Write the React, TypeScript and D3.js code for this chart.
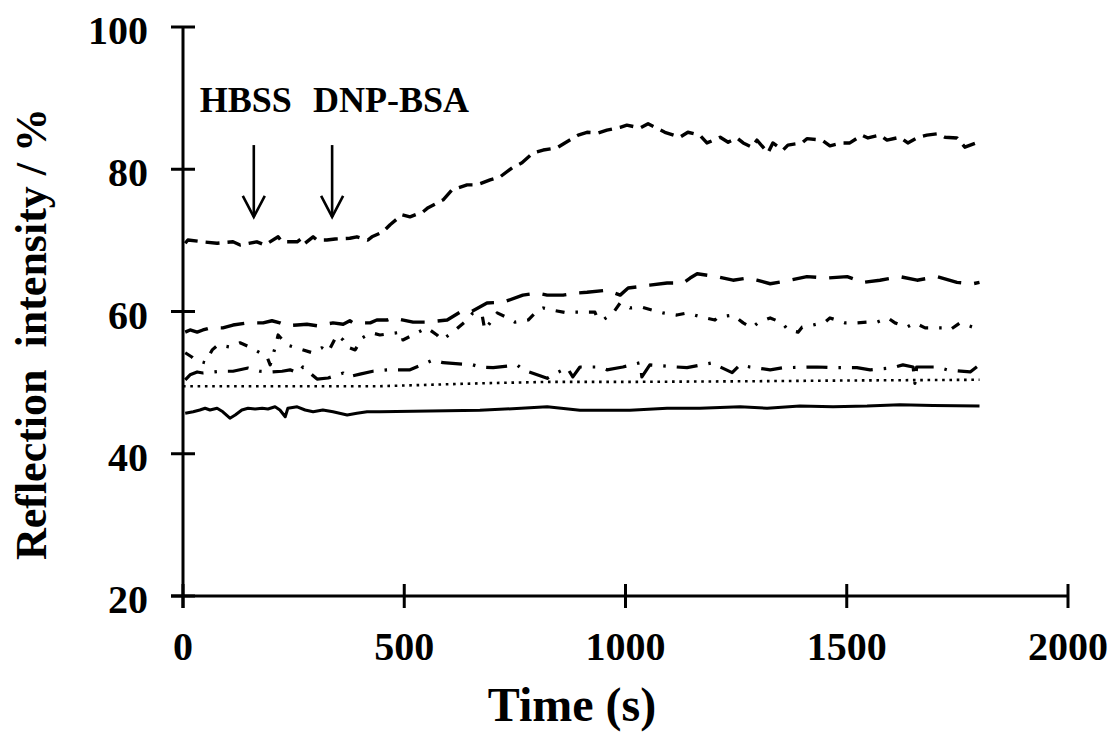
import React from "react";
import * as d3 from "d3";

// ---------- data ----------
const xTicks = [0, 500, 1000, 1500, 2000];
const yTicks = [20, 40, 60, 80, 100];

// top short-dashed trace
const s1T = [5, 11, 45, 77, 113, 129, 167, 185, 215, 224, 258, 269, 276, 294, 303, 325, 344, 377, 393, 418, 427, 452, 468, 495, 513, 542, 554, 588, 608, 642, 664, 694, 716, 744, 766, 791, 814, 845, 863, 893, 913, 938, 958, 988, 1003, 1033, 1051, 1089, 1123, 1141, 1168, 1184, 1214, 1232, 1252, 1266, 1286, 1297, 1322, 1333, 1356, 1367, 1399, 1410, 1444, 1462, 1489, 1507, 1534, 1548, 1575, 1591, 1620, 1638, 1661, 1681, 1706, 1722, 1749, 1767, 1797, 1800];
const s1V = [69.6, 70.05, 69.8, 69.6, 69.8, 69.35, 69.8, 69.35, 70.5, 69.8, 69.8, 70.3, 69.6, 70.5, 70.05, 70.05, 70.2, 70.3, 70.5, 70.05, 70.5, 71.2, 72.2, 73.6, 73.3, 74.0, 74.6, 75.7, 77.1, 77.8, 77.8, 78.5, 78.9, 80.2, 80.9, 82.3, 82.7, 83.0, 83.7, 84.8, 85.2, 85.1, 85.5, 85.9, 86.2, 85.8, 86.4, 85.2, 84.5, 85.2, 84.8, 83.7, 84.5, 83.8, 84.4, 83.7, 83.1, 84.1, 82.3, 83.7, 82.7, 83.4, 83.7, 84.3, 84.1, 83.3, 83.7, 83.7, 84.8, 84.4, 84.8, 84.1, 84.5, 83.7, 84.5, 84.8, 85.0, 84.5, 84.4, 83.1, 83.8, 83.4];

// long-dashed trace
const s2T = [5, 16, 32, 45, 61, 90, 113, 145, 181, 201, 219, 235, 258, 280, 303, 339, 362, 377, 384, 423, 438, 461, 475, 520, 551, 597, 626, 649, 687, 723, 768, 800, 823, 859, 890, 913, 958, 988, 1006, 1055, 1094, 1130, 1146, 1162, 1207, 1243, 1275, 1297, 1327, 1372, 1410, 1455, 1501, 1537, 1575, 1620, 1659, 1704, 1749, 1785, 1800];
const s2V = [57.1, 57.4, 57.1, 57.4, 57.7, 57.7, 58.1, 58.4, 58.4, 58.7, 58.4, 58.0, 58.1, 58.2, 58.0, 58.4, 58.2, 58.7, 58.4, 58.4, 58.8, 58.8, 59.1, 58.5, 58.5, 58.8, 59.9, 59.9, 61.2, 61.3, 62.3, 62.6, 62.3, 62.3, 62.6, 62.7, 63.0, 62.3, 63.3, 63.7, 64.0, 64.0, 64.7, 65.3, 64.9, 64.4, 64.7, 64.4, 63.9, 64.4, 64.9, 64.7, 64.9, 64.1, 64.4, 64.9, 64.4, 64.9, 64.1, 63.9, 64.1];

// upper dash-dot trace
const s3T = [5, 20, 27, 50, 66, 79, 106, 129, 151, 174, 190, 197, 208, 215, 235, 292, 314, 328, 348, 362, 371, 389, 405, 416, 427, 445, 495, 497, 551, 574, 585, 610, 642, 655, 676, 682, 710, 734, 750, 780, 802, 814, 834, 868, 881, 904, 931, 936, 949, 972, 988, 1010, 1037, 1060, 1085, 1116, 1139, 1173, 1202, 1209, 1243, 1266, 1286, 1299, 1327, 1354, 1367, 1390, 1399, 1424, 1451, 1462, 1496, 1523, 1546, 1568, 1593, 1609, 1636, 1654, 1677, 1715, 1733, 1756, 1785, 1800];
const s3V = [54.2, 53.6, 53.2, 52.8, 54.6, 55.3, 55.0, 55.6, 55.0, 54.2, 53.6, 52.5, 54.9, 56.7, 55.3, 54.2, 54.9, 54.3, 56.7, 56.0, 55.0, 54.6, 56.3, 56.7, 57.0, 56.7, 57.1, 56.0, 57.7, 56.7, 56.0, 57.1, 58.8, 59.8, 59.5, 57.4, 59.8, 59.1, 58.5, 58.8, 60.2, 60.5, 60.2, 59.8, 59.9, 59.9, 59.9, 59.1, 58.8, 59.8, 61.2, 60.5, 60.6, 60.2, 59.8, 59.5, 59.8, 59.2, 58.8, 59.2, 59.5, 58.4, 57.7, 58.4, 59.1, 58.4, 57.4, 57.1, 57.8, 58.1, 58.5, 59.1, 58.4, 58.4, 58.5, 58.5, 59.1, 58.4, 57.8, 58.4, 57.7, 57.7, 57.4, 58.4, 57.8, 58.2];

// lower dash-dot trace
const s4T = [5, 16, 32, 45, 84, 113, 147, 174, 201, 224, 242, 260, 271, 303, 328, 362, 373, 400, 429, 461, 513, 551, 565, 588, 655, 671, 701, 755, 768, 823, 836, 868, 881, 897, 942, 958, 994, 1033, 1037, 1055, 1116, 1139, 1198, 1214, 1241, 1259, 1281, 1327, 1356, 1433, 1469, 1523, 1553, 1605, 1627, 1650, 1654, 1658, 1704, 1727, 1779, 1800];
const s4V = [50.4, 51.1, 51.5, 51.35, 51.6, 51.6, 52.05, 51.6, 51.5, 51.6, 51.8, 51.35, 52.2, 50.5, 50.65, 51.35, 50.8, 51.2, 51.6, 51.8, 51.8, 52.8, 53.2, 52.8, 52.5, 52.2, 52.1, 52.5, 51.8, 50.6, 51.1, 52.1, 50.8, 52.2, 52.2, 51.8, 52.2, 52.8, 50.8, 52.5, 52.2, 52.1, 52.8, 52.2, 51.4, 52.5, 52.2, 51.8, 52.1, 52.2, 52.1, 52.1, 51.8, 52.1, 52.5, 52.2, 49.9, 52.2, 52.2, 51.8, 51.5, 52.5];

// dotted trace
const s5T = [0, 200, 445, 560, 670, 820, 1000, 1300, 1500, 1800];
const s5V = [49.5, 49.5, 49.5, 49.7, 49.9, 50.1, 50.1, 50.2, 50.3, 50.4];

// solid trace
const s6T = [5, 23, 38, 50, 61, 77, 90, 106, 118, 133, 147, 163, 179, 192, 208, 219, 231, 237, 258, 276, 294, 316, 339, 371, 393, 416, 445, 671, 823, 897, 1010, 1094, 1168, 1259, 1320, 1394, 1469, 1546, 1620, 1695, 1800];
const s6V = [45.7, 45.9, 46.15, 46.4, 46.15, 46.4, 45.9, 45.0, 45.45, 46.15, 46.4, 46.3, 46.4, 46.3, 46.6, 46.15, 45.2, 46.4, 46.6, 46.15, 45.9, 46.15, 45.9, 45.45, 45.7, 45.9, 45.9, 46.1, 46.6, 46.1, 46.1, 46.4, 46.4, 46.6, 46.4, 46.7, 46.6, 46.7, 46.9, 46.8, 46.7];

const annotations = [
  { label: "HBSS", textT: 38, arrowT: 160 },
  { label: "DNP-BSA", textT: 294, arrowT: 337 },
];
const annotationTextV = 88.05;
const arrowTopV = 83.4;
const arrowBottomV = 73.3;

const xLabel = "Time (s)";
const yLabel = "Reflection  intensity / %";

// ---------- component ----------
const W = 1115;
const H = 732;
const FONT = "'Liberation Serif', 'Times New Roman', Times, serif";

export default function App() {
  const x = d3.scaleLinear().domain([0, 2000]).range([183, 1068]);
  const y = d3.scaleLinear().domain([20, 100]).range([596, 27]);

  const line = d3
    .line<[number, number]>()
    .x((d) => x(d[0]))
    .y((d) => y(d[1]));

  const zip = (t: number[], v: number[]) => t.map((tt, i) => [tt, v[i]] as [number, number]);

  const series = [
    { data: zip(s1T, s1V), dash: "14 8", width: 3.4 },
    { data: zip(s2T, s2V), dash: "24 13", width: 3.4 },
    { data: zip(s3T, s3V), dash: "9 11 2.5 11", width: 3.2 },
    { data: zip(s4T, s4V), dash: "21 11 2.5 11", width: 3.2 },
    { data: zip(s5T, s5V), dash: "2.6 4.7", width: 2.6 },
    { data: zip(s6T, s6V), dash: null, width: 3 },
  ];

  const x0 = x(0);
  const yBase = y(20);

  return (
    <svg
      width={W}
      height={H}
      viewBox={`0 0 ${W} ${H}`}
      style={{ position: "absolute", left: 0, top: 0, background: "#fff" }}
      fontFamily={FONT}
    >
      <rect x={0} y={0} width={W} height={H} fill="#fff" />
      {/* traces */}
      {series.map((s, i) => (
        <path
          key={i}
          d={line(s.data) || ""}
          fill="none"
          stroke="#000"
          strokeWidth={s.width}
          strokeDasharray={s.dash || undefined}
          strokeLinejoin="round"
        />
      ))}

      {/* axes */}
      <line x1={x0} x2={x0} y1={y(100)} y2={yBase + 12} stroke="#000" strokeWidth={3} />
      <line x1={x0 - 12} x2={x(2000)} y1={yBase} y2={yBase} stroke="#000" strokeWidth={3} />
      {yTicks.map((v) => (
        <g key={"y" + v}>
          <line x1={x0 - 12} x2={x0 + 12} y1={y(v)} y2={y(v)} stroke="#000" strokeWidth={3} />
          <text x={148} y={y(v) + 17} textAnchor="end" fontSize={40} fontWeight="bold">
            {v}
          </text>
        </g>
      ))}
      {xTicks.map((v) => (
        <g key={"x" + v}>
          <line x1={x(v)} x2={x(v)} y1={yBase - 12} y2={yBase + 12} stroke="#000" strokeWidth={3} />
          <text x={x(v)} y={660} textAnchor="middle" fontSize={40} fontWeight="bold">
            {v}
          </text>
        </g>
      ))}

      {/* axis titles */}
      <text x={572} y={721} textAnchor="middle" fontSize={48} fontWeight="bold">
        {xLabel}
      </text>
      <text
        transform={`translate(46, 334) rotate(-90)`}
        textAnchor="middle"
        fontSize={44}
        fontWeight="bold"
        style={{ whiteSpace: "pre" }}
      >
        {yLabel}
      </text>

      {/* annotations */}
      {annotations.map((a) => {
        const ax = x(a.arrowT);
        const yt = y(arrowTopV);
        const yb = y(arrowBottomV);
        return (
          <g key={a.label}>
            <text x={x(a.textT)} y={y(annotationTextV)} fontSize={36} fontWeight="bold">
              {a.label}
            </text>
            <line x1={ax} x2={ax} y1={yt} y2={yb} stroke="#000" strokeWidth={2.6} />
            <polyline
              points={`${ax - 11},${yb - 21} ${ax},${yb} ${ax + 11},${yb - 21}`}
              fill="none"
              stroke="#000"
              strokeWidth={2.6}
            />
          </g>
        );
      })}
    </svg>
  );
}
